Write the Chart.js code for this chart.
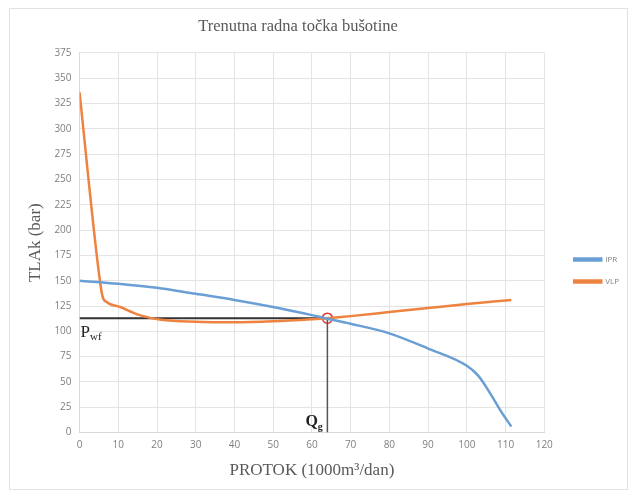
<!DOCTYPE html>
<html>
<head>
<meta charset="utf-8">
<script src="https://cdn.jsdelivr.net/npm/chart.js@4/dist/chart.umd.min.js"></script>
<style>
  html, body { margin: 0; padding: 0; background: #fff; }
  canvas { display: block; }
</style>
</head>
<body>
<canvas id="chart" width="628" height="493"></canvas>
<script>
// IPR krivulja
const qIPR = [0, 10, 20, 30, 40, 50, 60, 64, 70, 80, 90, 100, 103, 106, 109, 111.5];
const pIPR = [150, 147, 143, 137, 131, 124, 116, 112.5, 107.5, 98, 83, 66, 56, 39, 20, 6];

// VLP krivulja
const qVLP = [0, 4.6, 5.9, 7, 10.5, 15.5, 21, 30, 40, 50, 60, 64, 70, 80, 90, 100, 111.5];
const pVLP = [336, 170, 135, 129, 124, 116, 111.5, 109.5, 109, 110, 112, 113, 115, 119, 123, 127, 131];

// radna tocka
const qRad = 64;
const pRad = 113;

const xTicks = [0, 10, 20, 30, 40, 50, 60, 70, 80, 90, 100, 110, 120];
const yTicks = [0, 25, 50, 75, 100, 125, 150, 175, 200, 225, 250, 275, 300, 325, 350, 375];

const toPoints = (xs, ys) => xs.map((x, i) => ({ x: x, y: ys[i] }));

// okvir, pomak legende i naslova
const framePlugin = {
    id: 'okvir',
    afterLayout(chart) {
        const lg = chart.legend;
        lg.left += 16; lg.right += 16;
        lg.top += 25; lg.bottom += 25;
        const tb = chart.titleBlock;
        tb.left -= 18; tb.right -= 18;
    },
    beforeDraw(chart) {
        const c = chart.ctx;
        c.save();
        c.strokeStyle = '#e6e0dc';
        c.lineWidth = 1;
        c.strokeRect(9.5, 8.5, 618, 481);
        c.restore();
    }
};

// oznake Pwf i Qg
const labelPlugin = {
    id: 'oznake',
    afterDatasetsDraw(chart) {
        const c = chart.ctx;
        const xs = chart.scales.x;
        const ys = chart.scales.y;
        c.save();
        c.fillStyle = '#222';
        c.textBaseline = 'alphabetic';
        c.textAlign = 'left';
        // Pwf
        let x = xs.getPixelForValue(0) + 1;
        let y = ys.getPixelForValue(pRad) + 19;
        c.font = '17px "Liberation Serif"';
        c.fillText('P', x, y);
        let w = c.measureText('P').width;
        c.font = '11px "Liberation Serif"';
        c.fillText('wf', x + w, y + 3);
        // Qg
        x = xs.getPixelForValue(qRad) - 22;
        y = ys.getPixelForValue(0) - 7;
        c.font = 'bold 16px "Liberation Serif"';
        c.fillText('Q', x, y);
        w = c.measureText('Q').width;
        c.font = 'bold 10px "Liberation Serif"';
        c.fillText('g', x + w, y + 4);
        c.restore();
    }
};

const ctx = document.getElementById('chart').getContext('2d');
const chart = new Chart(ctx, {
    type: 'scatter',
    data: {
        datasets: [
            {
                label: 'IPR',
                data: toPoints(qIPR, pIPR),
                showLine: true,
                borderColor: '#6a9fd6',
                backgroundColor: '#6a9fd6',
                borderWidth: 2.5,
                pointRadius: 0,
                cubicInterpolationMode: 'monotone'
            },
            {
                label: 'VLP',
                data: toPoints(qVLP, pVLP),
                showLine: true,
                borderColor: '#ee8340',
                backgroundColor: '#ee8340',
                borderWidth: 2.5,
                pointRadius: 0,
                cubicInterpolationMode: 'monotone'
            },
            {
                label: 'Pwf',
                data: toPoints([0, qRad], [pRad, pRad]),
                showLine: true,
                borderColor: '#333',
                borderWidth: 2,
                pointRadius: 0
            },
            {
                label: 'Qg',
                data: toPoints([qRad, qRad], [0, pRad]),
                showLine: true,
                borderColor: '#555',
                borderWidth: 1.5,
                pointRadius: 0
            },
            {
                label: 'Radna tocka',
                data: toPoints([qRad], [pRad]),
                showLine: false,
                pointRadius: 5,
                pointBorderWidth: 1.5,
                pointBorderColor: '#e0352b',
                pointBackgroundColor: 'rgba(0,0,0,0)'
            }
        ]
    },
    options: {
        responsive: false,
        animation: false,
        layout: { padding: { left: 19, right: 15, top: 10, bottom: 12 } },
        scales: {
            x: {
                type: 'linear',
                min: 0,
                max: 120,
                afterBuildTicks: s => { s.ticks = xTicks.map(v => ({ value: v })); },
                grid: { color: '#e4e4e4', drawTicks: false },
                border: { color: '#d9d9d9' },
                ticks: { color: '#7f7f7f', font: { family: 'Open Sans', size: 10 }, padding: 7 },
                title: {
                    display: true,
                    text: 'PROTOK (1000m³/dan)',
                    color: '#595959',
                    font: { family: 'Liberation Serif', size: 17 },
                    padding: { top: 2, bottom: 0 }
                }
            },
            y: {
                min: 0,
                max: 375,
                afterBuildTicks: s => { s.ticks = yTicks.map(v => ({ value: v })); },
                grid: { color: '#e4e4e4', drawTicks: false },
                border: { color: '#d9d9d9' },
                ticks: { color: '#7f7f7f', font: { family: 'Open Sans', size: 10 }, padding: 8 },
                title: {
                    display: true,
                    text: 'TLAk (bar)',
                    color: '#595959',
                    font: { family: 'Liberation Serif', size: 17 },
                    padding: { top: 6, bottom: 1 }
                }
            }
        },
        plugins: {
            title: {
                display: true,
                text: 'Trenutna radna točka bušotine',
                color: '#595959',
                font: { family: 'Liberation Serif', size: 16.5, weight: 'normal' },
                padding: { top: 7, bottom: 16 }
            },
            legend: {
                position: 'right',
                labels: {
                    color: '#7f7f7f',
                    font: { family: 'Open Sans', size: 8 },
                    boxWidth: 27,
                    boxHeight: 2,
                    padding: 14,
                    filter: item => item.text === 'IPR' || item.text === 'VLP'
                }
            },
            tooltip: { enabled: false }
        }
    },
    plugins: [framePlugin, labelPlugin]
});
</script>
</body>
</html>
